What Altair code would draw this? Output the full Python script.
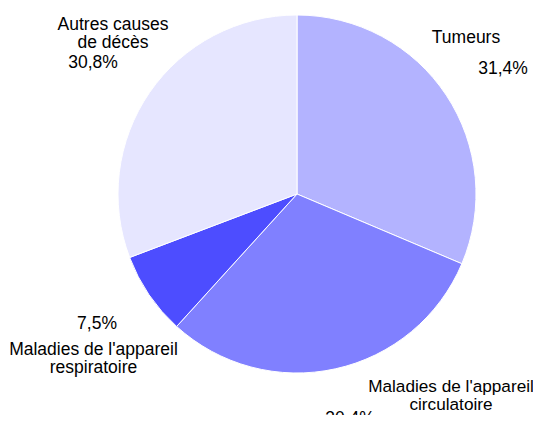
import altair as alt
import pandas as pd

categories = ["Tumeurs", "Maladies de l'appareil circulatoire",
              "Maladies de l'appareil respiratoire", "Autres causes de décès"]
values = [31.4, 30.4, 7.5, 30.8]
pct_labels = ["31,4%", "30.4%", "7,5%", "30,8%"]
name_labels = ["Tumeurs", "Maladies de l'appareil\ncirculatoire",
               "Maladies de l'appareil\nrespiratoire", "Autres causes\nde décès"]
colors = ["#b3b3ff", "#8080ff", "#4d4dff", "#e6e6ff"]

df = pd.DataFrame({"cat": categories, "val": values, "ord": list(range(len(values)))})

OX, OY = -8, -8  # page margin offset
CX, CY, R = 297 + OX, 194 + OY, 179

pie = alt.Chart(df).mark_arc(
    x=CX, y=CY, outerRadius=R, stroke="white", strokeWidth=1
).encode(
    theta=alt.Theta("val:Q", stack=True),
    order=alt.Order("ord:O"),
    color=alt.Color("cat:N", scale=alt.Scale(domain=categories, range=colors), legend=None),
)

FONT = "Liberation Sans"
FS = 17.5

def label(txt, x, y, fs=FS):
    return alt.Chart(df).transform_filter("datum.ord == 0").mark_text(
        x=x + OX, y=y + OY, font=FONT, fontSize=fs, color="black",
        align="center", baseline="middle", lineBreak="\n", lineHeight=18
    ).encode(text=alt.value(txt))

layers = [pie,
          label(name_labels[0], 466, 37.5),
          label(pct_labels[0], 503, 69),
          label(name_labels[1], 451, 387, 17.2),
          label(pct_labels[1], 350, 419),
          label(pct_labels[2], 97, 324),
          label(name_labels[2], 93.5, 350),
          label(name_labels[3], 113, 25),
          label(pct_labels[3], 93, 63)]

chart = alt.layer(*layers).properties(
    width=525, height=407, autosize=alt.AutoSizeParams(type="none"), padding=0
).configure_view(stroke=None).configure(background="white")

chart.save("out.html", embed_options={"renderer": "svg", "actions": False})
